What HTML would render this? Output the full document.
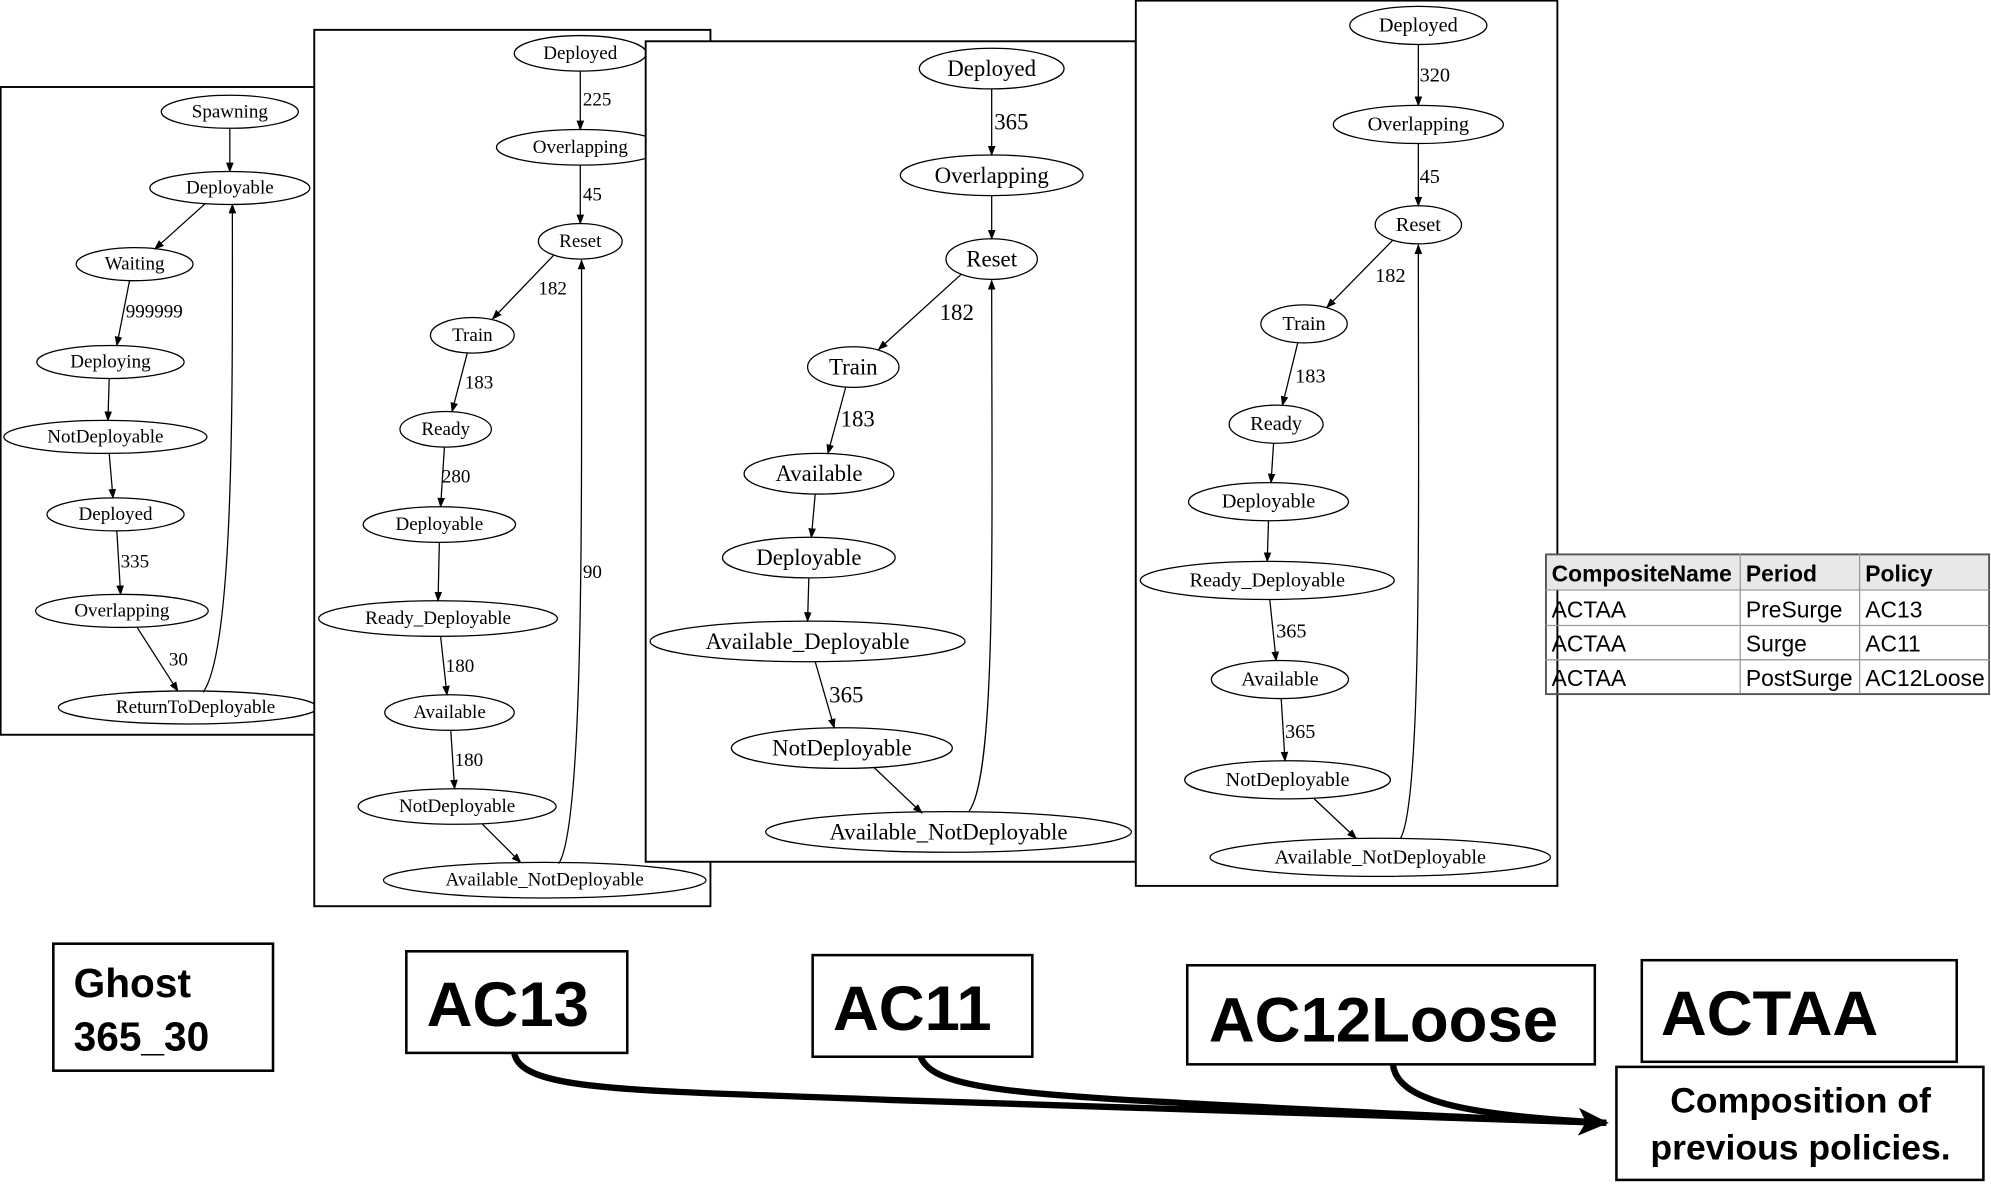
<!DOCTYPE html>
<html><head><meta charset="utf-8"><style>
html,body{margin:0;padding:0;background:#fff;}
svg{display:block;}
.n{font-family:"Liberation Serif",serif;font-size:15px;text-anchor:middle;dominant-baseline:central;}
.l{font-family:"Liberation Serif",serif;font-size:15px;}
.t{font-family:"Liberation Sans",sans-serif;font-size:18px;}
.b{font-family:"Liberation Sans",sans-serif;font-weight:bold;}
</style></head><body>
<svg width="1991" height="1185" viewBox="0 0 1568 933" preserveAspectRatio="none" xmlns="http://www.w3.org/2000/svg">
<defs>
<marker id="a" markerWidth="8" markerHeight="8" refX="7" refY="4" orient="auto" markerUnits="userSpaceOnUse"><path d="M0,1 L8,4 L0,7z" fill="#000"/></marker>
<marker id="A" markerWidth="26" markerHeight="22" refX="22" refY="11" orient="auto" markerUnits="userSpaceOnUse"><path d="M0,0 L24,11 L0,22 L6,11z" fill="#000"/></marker>
</defs>
<g fill="none" stroke="#000" stroke-width="1">
<!-- Panel 1 -->
<rect x="0.5" y="68.5" width="260" height="510" fill="#fff" stroke-width="1.5"/>
<ellipse cx="181" cy="88" rx="54" ry="13"/>
<ellipse cx="181" cy="148" rx="63" ry="13"/>
<ellipse cx="106" cy="208" rx="46" ry="13"/>
<ellipse cx="87" cy="285" rx="58" ry="13"/>
<ellipse cx="83" cy="344" rx="80" ry="13"/>
<ellipse cx="91" cy="405" rx="54" ry="13"/>
<ellipse cx="96" cy="481" rx="68" ry="13"/>
<ellipse cx="148" cy="557" rx="102" ry="13"/>
<path d="M181,101 L181,135" marker-end="url(#a)"/>
<path d="M162,160 L122,196" marker-end="url(#a)"/>
<path d="M102,221 L92,272" marker-end="url(#a)"/>
<path d="M86,298 L85,331" marker-end="url(#a)"/>
<path d="M86,357 L89,392" marker-end="url(#a)"/>
<path d="M92,418 L95,468" marker-end="url(#a)"/>
<path d="M108,494 L140,544" marker-end="url(#a)"/>
<path d="M160,545 C185,510 183,300 183,161" marker-end="url(#a)"/>
</g>
<g fill="#000">
<text class="n" x="181" y="88">Spawning</text>
<text class="n" x="181" y="148">Deployable</text>
<text class="n" x="106" y="208">Waiting</text>
<text class="n" x="87" y="285">Deploying</text>
<text class="n" x="83" y="344">NotDeployable</text>
<text class="n" x="91" y="405">Deployed</text>
<text class="n" x="96" y="481">Overlapping</text>
<text class="n" x="154" y="557">ReturnToDeployable</text>
<text class="l" x="99" y="250">999999</text>
<text class="l" x="95" y="447">335</text>
<text class="l" x="133" y="524">30</text>
</g>
<!-- Panel 2 -->
<g fill="none" stroke="#000" stroke-width="1">
<rect x="247.5" y="23.5" width="312" height="690" fill="#fff" stroke-width="1.5"/>
<ellipse cx="457" cy="42" rx="52" ry="14"/>
<ellipse cx="457" cy="116" rx="66" ry="14"/>
<ellipse cx="457" cy="190" rx="33" ry="14"/>
<ellipse cx="372" cy="264" rx="33" ry="14"/>
<ellipse cx="351" cy="338" rx="36" ry="14"/>
<ellipse cx="346" cy="413" rx="60" ry="14"/>
<ellipse cx="345" cy="487" rx="94" ry="14"/>
<ellipse cx="354" cy="561" rx="51" ry="14"/>
<ellipse cx="360" cy="635" rx="78" ry="14"/>
<ellipse cx="429" cy="693" rx="127" ry="14"/>
<path d="M457,56 L457,102" marker-end="url(#a)"/>
<path d="M457,130 L457,176" marker-end="url(#a)"/>
<path d="M436,201 L388,251" marker-end="url(#a)"/>
<path d="M368,278 L356,324" marker-end="url(#a)"/>
<path d="M350,352 L347,399" marker-end="url(#a)"/>
<path d="M346,427 L345,473" marker-end="url(#a)"/>
<path d="M347,501 L352,547" marker-end="url(#a)"/>
<path d="M355,575 L358,621" marker-end="url(#a)"/>
<path d="M380,649 L410,679" marker-end="url(#a)"/>
<path d="M440,680 C460,650 458,400 458,205" marker-end="url(#a)"/>
</g>
<g fill="#000">
<text class="n" x="457" y="42">Deployed</text>
<text class="n" x="457" y="116">Overlapping</text>
<text class="n" x="457" y="190">Reset</text>
<text class="n" x="372" y="264">Train</text>
<text class="n" x="351" y="338">Ready</text>
<text class="n" x="346" y="413">Deployable</text>
<text class="n" x="345" y="487">Ready_Deployable</text>
<text class="n" x="354" y="561">Available</text>
<text class="n" x="360" y="635">NotDeployable</text>
<text class="n" x="429" y="693">Available_NotDeployable</text>
<text class="l" x="459" y="83">225</text>
<text class="l" x="459" y="158">45</text>
<text class="l" x="424" y="232">182</text>
<text class="l" x="366" y="306">183</text>
<text class="l" x="348" y="380">280</text>
<text class="l" x="351" y="529">180</text>
<text class="l" x="358" y="603">180</text>
<text class="l" x="459" y="455">90</text>
</g>
<!-- Panel 3 -->
<g fill="none" stroke="#000" stroke-width="1">
<rect x="508.5" y="32.5" width="386" height="646" fill="#fff" stroke-width="1.5"/>
<ellipse cx="781" cy="54" rx="57" ry="16"/>
<ellipse cx="781" cy="138" rx="72" ry="16"/>
<ellipse cx="781" cy="204" rx="36" ry="16"/>
<ellipse cx="672" cy="289" rx="36" ry="16"/>
<ellipse cx="645" cy="373" rx="59" ry="16"/>
<ellipse cx="637" cy="439" rx="68" ry="16"/>
<ellipse cx="636" cy="505" rx="124" ry="16"/>
<ellipse cx="663" cy="589" rx="87" ry="16"/>
<ellipse cx="747" cy="655" rx="144" ry="16"/>
<path d="M781,70 L781,122" marker-end="url(#a)"/>
<path d="M781,154 L781,188" marker-end="url(#a)"/>
<path d="M757,216 L692,275" marker-end="url(#a)"/>
<path d="M666,305 L652,357" marker-end="url(#a)"/>
<path d="M642,389 L639,423" marker-end="url(#a)"/>
<path d="M637,455 L636,489" marker-end="url(#a)"/>
<path d="M642,521 L657,573" marker-end="url(#a)"/>
<path d="M688,604 L726,640" marker-end="url(#a)"/>
<path d="M763,639 C785,610 781,420 781,221" marker-end="url(#a)"/>
</g>
<g fill="#000">
<text class="n" x="781" y="54" style="font-size:18px">Deployed</text>
<text class="n" x="781" y="138" style="font-size:18px">Overlapping</text>
<text class="n" x="781" y="204" style="font-size:18px">Reset</text>
<text class="n" x="672" y="289" style="font-size:18px">Train</text>
<text class="n" x="645" y="373" style="font-size:18px">Available</text>
<text class="n" x="637" y="439" style="font-size:18px">Deployable</text>
<text class="n" x="636" y="505" style="font-size:18px">Available_Deployable</text>
<text class="n" x="663" y="589" style="font-size:18px">NotDeployable</text>
<text class="n" x="747" y="655" style="font-size:18px">Available_NotDeployable</text>
<text class="l" x="783" y="102" style="font-size:18px">365</text>
<text class="l" x="740" y="252" style="font-size:18px">182</text>
<text class="l" x="662" y="336" style="font-size:18px">183</text>
<text class="l" x="653" y="553" style="font-size:18px">365</text>
</g>
<!-- Panel 4 -->
<g fill="none" stroke="#000" stroke-width="1">
<rect x="894.5" y="0.5" width="332" height="697" fill="#fff" stroke-width="1.5"/>
<ellipse cx="1117" cy="20" rx="54" ry="15"/>
<ellipse cx="1117" cy="98" rx="67" ry="15"/>
<ellipse cx="1117" cy="177" rx="34" ry="15"/>
<ellipse cx="1027" cy="255" rx="34" ry="15"/>
<ellipse cx="1005" cy="334" rx="37" ry="15"/>
<ellipse cx="999" cy="395" rx="63" ry="15"/>
<ellipse cx="998" cy="457" rx="100" ry="15"/>
<ellipse cx="1008" cy="535" rx="54" ry="15"/>
<ellipse cx="1014" cy="614" rx="81" ry="15"/>
<ellipse cx="1087" cy="675" rx="134" ry="15"/>
<path d="M1117,35 L1117,83" marker-end="url(#a)"/>
<path d="M1117,113 L1117,162" marker-end="url(#a)"/>
<path d="M1097,189 L1045,242" marker-end="url(#a)"/>
<path d="M1022,270 L1010,319" marker-end="url(#a)"/>
<path d="M1003,349 L1001,380" marker-end="url(#a)"/>
<path d="M999,410 L998,442" marker-end="url(#a)"/>
<path d="M1000,472 L1005,520" marker-end="url(#a)"/>
<path d="M1009,550 L1012,599" marker-end="url(#a)"/>
<path d="M1035,629 L1068,660" marker-end="url(#a)"/>
<path d="M1103,660 C1120,630 1117,400 1117,193" marker-end="url(#a)"/>
</g>
<g fill="#000">
<text class="n" x="1117" y="20" style="font-size:16px">Deployed</text>
<text class="n" x="1117" y="98" style="font-size:16px">Overlapping</text>
<text class="n" x="1117" y="177" style="font-size:16px">Reset</text>
<text class="n" x="1027" y="255" style="font-size:16px">Train</text>
<text class="n" x="1005" y="334" style="font-size:16px">Ready</text>
<text class="n" x="999" y="395" style="font-size:16px">Deployable</text>
<text class="n" x="998" y="457" style="font-size:16px">Ready_Deployable</text>
<text class="n" x="1008" y="535" style="font-size:16px">Available</text>
<text class="n" x="1014" y="614" style="font-size:16px">NotDeployable</text>
<text class="n" x="1087" y="675" style="font-size:16px">Available_NotDeployable</text>
<text class="l" x="1118" y="64" style="font-size:16px">320</text>
<text class="l" x="1118" y="144" style="font-size:16px">45</text>
<text class="l" x="1083" y="222" style="font-size:16px">182</text>
<text class="l" x="1020" y="301" style="font-size:16px">183</text>
<text class="l" x="1005" y="502" style="font-size:16px">365</text>
<text class="l" x="1012" y="581" style="font-size:16px">365</text>
</g>
<!-- Table -->
<rect x="1217" y="436" width="350" height="28" fill="#e8e8e8"/>
<g stroke="#999" stroke-width="1" fill="none">
<rect x="1217.5" y="436.5" width="349" height="110" stroke="#555" stroke-width="1.5"/>
<line x1="1217" y1="464.5" x2="1567" y2="464.5"/>
<line x1="1217" y1="492.5" x2="1567" y2="492.5"/>
<line x1="1217" y1="519.5" x2="1567" y2="519.5"/>
<line x1="1370.5" y1="436" x2="1370.5" y2="546"/>
<line x1="1464.5" y1="436" x2="1464.5" y2="546"/>
</g>
<g fill="#000" class="t">
<text class="t" x="1222" y="458" font-weight="bold">CompositeName</text>
<text class="t" x="1375" y="458" font-weight="bold">Period</text>
<text class="t" x="1469" y="458" font-weight="bold">Policy</text>
<text class="t" x="1222" y="486">ACTAA</text><text class="t" x="1375" y="486">PreSurge</text><text class="t" x="1469" y="486">AC13</text>
<text class="t" x="1222" y="513">ACTAA</text><text class="t" x="1375" y="513">Surge</text><text class="t" x="1469" y="513">AC11</text>
<text class="t" x="1222" y="540">ACTAA</text><text class="t" x="1375" y="540">PostSurge</text><text class="t" x="1469" y="540">AC12Loose</text>
</g>
<!-- Bottom boxes -->
<g fill="none" stroke="#000" stroke-width="2">
<rect x="42" y="743" width="173" height="100"/>
<rect x="320" y="749" width="174" height="80"/>
<rect x="640" y="752" width="173" height="80"/>
<rect x="935" y="760" width="321" height="78"/>
<rect x="1293" y="756" width="248" height="80"/>
<rect x="1273" y="840" width="289" height="89"/>
</g>
<g fill="#000">
<text class="b" x="58" y="785" font-size="32">Ghost</text>
<text class="b" x="58" y="827" font-size="32">365_30</text>
<text class="b" x="336" y="808" font-size="50">AC13</text>
<text class="b" x="656" y="811" font-size="50">AC11</text>
<text class="b" x="952" y="820" font-size="50">AC12Loose</text>
<text class="b" x="1308" y="815" font-size="50">ACTAA</text>
<text class="b" x="1418" y="876" font-size="28" text-anchor="middle">Composition of</text>
<text class="b" x="1418" y="913" font-size="28" text-anchor="middle">previous policies.</text>
</g>
<g fill="none" stroke="#000" stroke-width="5">
<path d="M405,829 C410,860 500,858 700,866 C900,874 1100,878 1265,884" marker-end="url(#A)"/>
<path d="M725,832 C735,858 800,862 1000,872 C1120,878 1200,882 1265,884"/>
<path d="M1097,838 C1100,866 1150,878 1265,884"/>
</g>
</svg>
</body></html>
